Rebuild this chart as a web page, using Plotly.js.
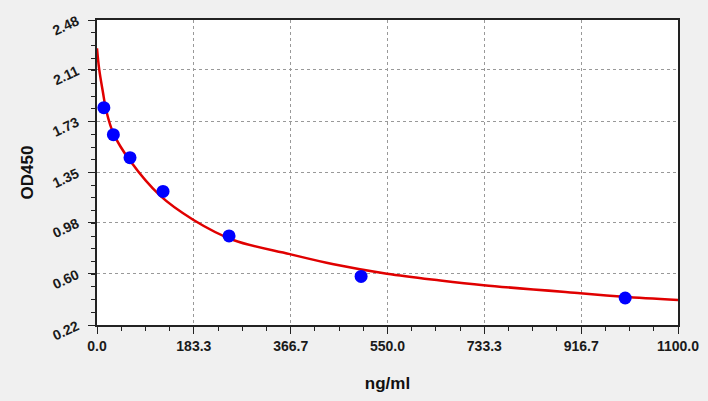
<!DOCTYPE html>
<html>
<head>
<meta charset="utf-8">
<script src="https://cdn.plot.ly/plotly-3.0.1.min.js"></script>
<style>
  html, body { margin: 0; padding: 0; background: #f0f0f0; }
  #chart { width: 708px; height: 401px; }
</style>
</head>
<body>
<div id="chart"></div>
<script>
// standards (blue dots)
const stdConc = [13, 31, 62.5, 125, 250, 500, 1000];
const stdOD = [1.83, 1.63, 1.46, 1.21, 0.88, 0.58, 0.42];

// fitted curve
const fitConc = [0, 4, 11, 18, 31, 62, 119, 182, 258, 365, 448, 549, 650, 732, 915, 997, 1100];
const fitOD = [2.27, 2.12, 1.95, 1.80, 1.64, 1.44, 1.18, 1.00, 0.85, 0.745, 0.67, 0.60, 0.55, 0.515, 0.455, 0.43, 0.405];

const xTicks = [0, 183.3, 366.7, 550, 733.3, 916.7, 1100];
const xLabels = ["0.0", "183.3", "366.7", "550.0", "733.3", "916.7", "1100.0"];
const yTicks = [0.22, 0.60, 0.98, 1.35, 1.73, 2.11, 2.48];
const yLabels = ["0.22", "0.60", "0.98", "1.35", "1.73", "2.11", "2.48"];

const traceFit = {
    x: fitConc,
    y: fitOD,
    mode: "lines",
    type: "scatter",
    line: { color: "#e00000", width: 2.5, shape: "spline", smoothing: 1 },
    hoverinfo: "skip"
};

const traceStd = {
    x: stdConc,
    y: stdOD,
    mode: "markers",
    type: "scatter",
    marker: { color: "#0000ff", size: 13 }
};

const tickFont = { family: "Liberation Sans, Arial", size: 14, color: "#1a1a1a", weight: "bold" };

const layout = {
    width: 708,
    height: 401,
    showlegend: false,
    margin: { l: 97, r: 30, t: 20, b: 76 },
    paper_bgcolor: "#f0f0f0",
    plot_bgcolor: "#ffffff",
    font: { family: "Liberation Sans, Arial", color: "#111" },
    xaxis: {
        title: { text: "ng/ml", font: { size: 17, weight: "bold", color: "#111" }, standoff: 24 },
        range: [0, 1100],
        tickmode: "array",
        tickvals: xTicks,
        ticktext: xLabels,
        tickfont: tickFont,
        ticks: "outside",
        ticklen: 7,
        tickcolor: "#222",
        showline: true,
        linecolor: "#222",
        linewidth: 2,
        mirror: true,
        showgrid: true,
        gridcolor: "#999",
        griddash: "3px,3px",
        gridwidth: 1,
        zeroline: false,
        minor: { tickmode: "linear", tick0: 0, dtick: 45.833, ticks: "outside", ticklen: 4, tickcolor: "#222", showgrid: false }
    },
    yaxis: {
        title: { text: "OD450", font: { size: 17, weight: "bold", color: "#111" }, standoff: 12 },
        range: [0.22, 2.48],
        tickmode: "array",
        tickvals: yTicks,
        ticktext: yLabels,
        tickfont: tickFont,
        tickangle: -25,
        ticklabelstandoff: 8,
        ticks: "outside",
        ticklen: 7,
        tickcolor: "#222",
        showline: true,
        linecolor: "#222",
        linewidth: 2,
        mirror: true,
        showgrid: true,
        gridcolor: "#999",
        griddash: "3px,3px",
        gridwidth: 1,
        zeroline: false,
        minor: { tickmode: "linear", tick0: 0.22, dtick: 0.0942, ticks: "outside", ticklen: 4, tickcolor: "#222", showgrid: false }
    }
};

Plotly.newPlot("chart", [traceFit, traceStd], layout, { staticPlot: true });
</script>
</body>
</html>
